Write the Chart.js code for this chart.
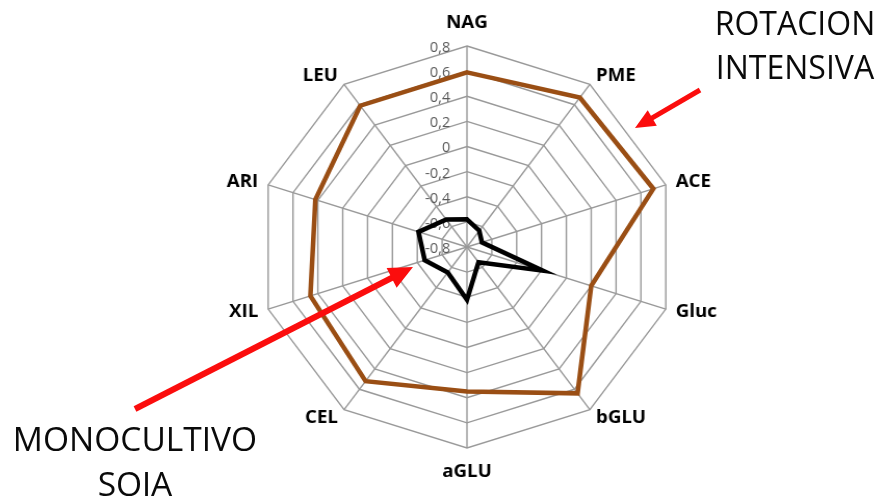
<!DOCTYPE html>
<html><head><meta charset="utf-8">
<script src="https://cdn.jsdelivr.net/npm/chart.js@4.4.1/dist/chart.umd.min.js"></script>
<style>
html,body{margin:0;padding:0;background:#fff;overflow:hidden;width:885px;height:496px;}
#wrap{position:absolute;left:0;top:0;width:851px;height:496px;transform:scaleX(1.04);transform-origin:0 0;}
#arrows{position:absolute;left:0;top:0;}
.note{position:absolute;font-family:'Open Sans',sans-serif;color:#0a0a0a;text-align:center;white-space:nowrap;}
</style></head><body>
<div id="wrap"><canvas id="c" width="851" height="496"></canvas></div>
<canvas id="arrows" width="885" height="496"></canvas>
<div class="note" style="left:695px;top:0.6px;width:200px;font-size:32px;line-height:44px;">ROTACION<br>INTENSIVA</div>
<div class="note" style="left:-15px;top:416px;width:300px;font-size:33.5px;line-height:45px;">MONOCULTIVO<br>SOJA</div>
<script>
const categories = ['NAG','PME','ACE','Gluc','bGLU','aGLU','CEL','XIL','ARI','LEU'];
const rotacionIntensiva = [0.59, 0.67, 0.70, 0.20, 0.64, 0.35, 0.52, 0.46, 0.42, 0.59];
const monocultivoSoja = [-0.58, -0.64, -0.68, -0.19, -0.65, -0.38, -0.55, -0.46, -0.41, -0.53];
const scaleMin = -0.8, scaleMax = 0.8, scaleStep = 0.2;
const fmtTick = v => { const r = Math.round(v * 10) / 10; return r === 0 ? '0' : String(r).replace('.', ','); };

const labelPlugin = {
  id: 'excelLabels',
  beforeDatasetsDraw(chart) {
    const s = chart.scales.r, ctx = chart.ctx;
    ctx.save();
    ctx.font = '14px "Open Sans"';
    ctx.fillStyle = '#595959';
    ctx.textAlign = 'right';
    ctx.textBaseline = 'middle';
    s.ticks.forEach(t => {
      const y = s.yCenter - s.getDistanceFromCenterForValue(t.value);
      ctx.fillText(fmtTick(t.value), s.xCenter - 16, y + 2);
    });
    ctx.font = 'bold 18px "Open Sans"';
    ctx.fillStyle = '#000';
    chart.data.labels.forEach((lab, i) => {
      const p = s.getPointPosition(i, s.drawingArea + 10);
      const a = s.getIndexAngle(i);
      const sn = Math.sin(a), cs = Math.cos(a);
      let y = p.y;
      if (Math.abs(sn) < 0.01) { ctx.textAlign = 'center'; y += cs > 0 ? -13.5 : 13.5; }
      else ctx.textAlign = sn > 0 ? 'left' : 'right';
      ctx.fillText(lab, p.x, y);
    });
    ctx.restore();
  }
};

new Chart(document.getElementById('c'), {
  type: 'radar',
  data: {
    labels: categories,
    datasets: [
      { label: 'ROTACION INTENSIVA', data: rotacionIntensiva, borderColor: '#9a4e14', borderWidth: 4.5, pointRadius: 0, fill: false, backgroundColor: 'rgba(0,0,0,0)' },
      { label: 'MONOCULTIVO SOJA', data: monocultivoSoja, borderColor: '#000000', borderWidth: 4.5, pointRadius: 0, fill: false, backgroundColor: 'rgba(0,0,0,0)' }
    ]
  },
  options: {
    responsive: false,
    animation: false,
    events: [],
    layout: { padding: { left: 248, right: 201, top: 46, bottom: 47 } },
    plugins: { legend: { display: false }, tooltip: { enabled: false } },
    elements: { line: { tension: 0, borderJoinStyle: 'miter' } },
    scales: {
      r: {
        min: scaleMin, max: scaleMax, beginAtZero: false,
        ticks: { display: false, stepSize: scaleStep },
        grid: { color: '#999999', lineWidth: 1.4, circular: false },
        angleLines: { color: '#999999', lineWidth: 1.4 },
        pointLabels: { display: false }
      }
    }
  },
  plugins: [labelPlugin]
});

function arrow(ctx, x1, y1, x2, y2, lw, hl, hw) {
  const a = Math.atan2(y2 - y1, x2 - x1);
  const bx = x2 - hl * Math.cos(a), by = y2 - hl * Math.sin(a);
  ctx.strokeStyle = ctx.fillStyle = '#fb0d0d';
  ctx.lineWidth = lw;
  ctx.beginPath();
  ctx.moveTo(x1, y1);
  ctx.lineTo(bx + Math.cos(a), by + Math.sin(a));
  ctx.stroke();
  ctx.beginPath();
  ctx.moveTo(x2, y2);
  ctx.lineTo(bx - hw * Math.sin(a), by + hw * Math.cos(a));
  ctx.lineTo(bx + hw * Math.sin(a), by - hw * Math.cos(a));
  ctx.closePath();
  ctx.fill();
}
const actx = document.getElementById('arrows').getContext('2d');
arrow(actx, 700, 90, 635, 128, 5, 20, 9);
arrow(actx, 135, 409, 413, 267, 6, 24, 11);
</script>
</body></html>
